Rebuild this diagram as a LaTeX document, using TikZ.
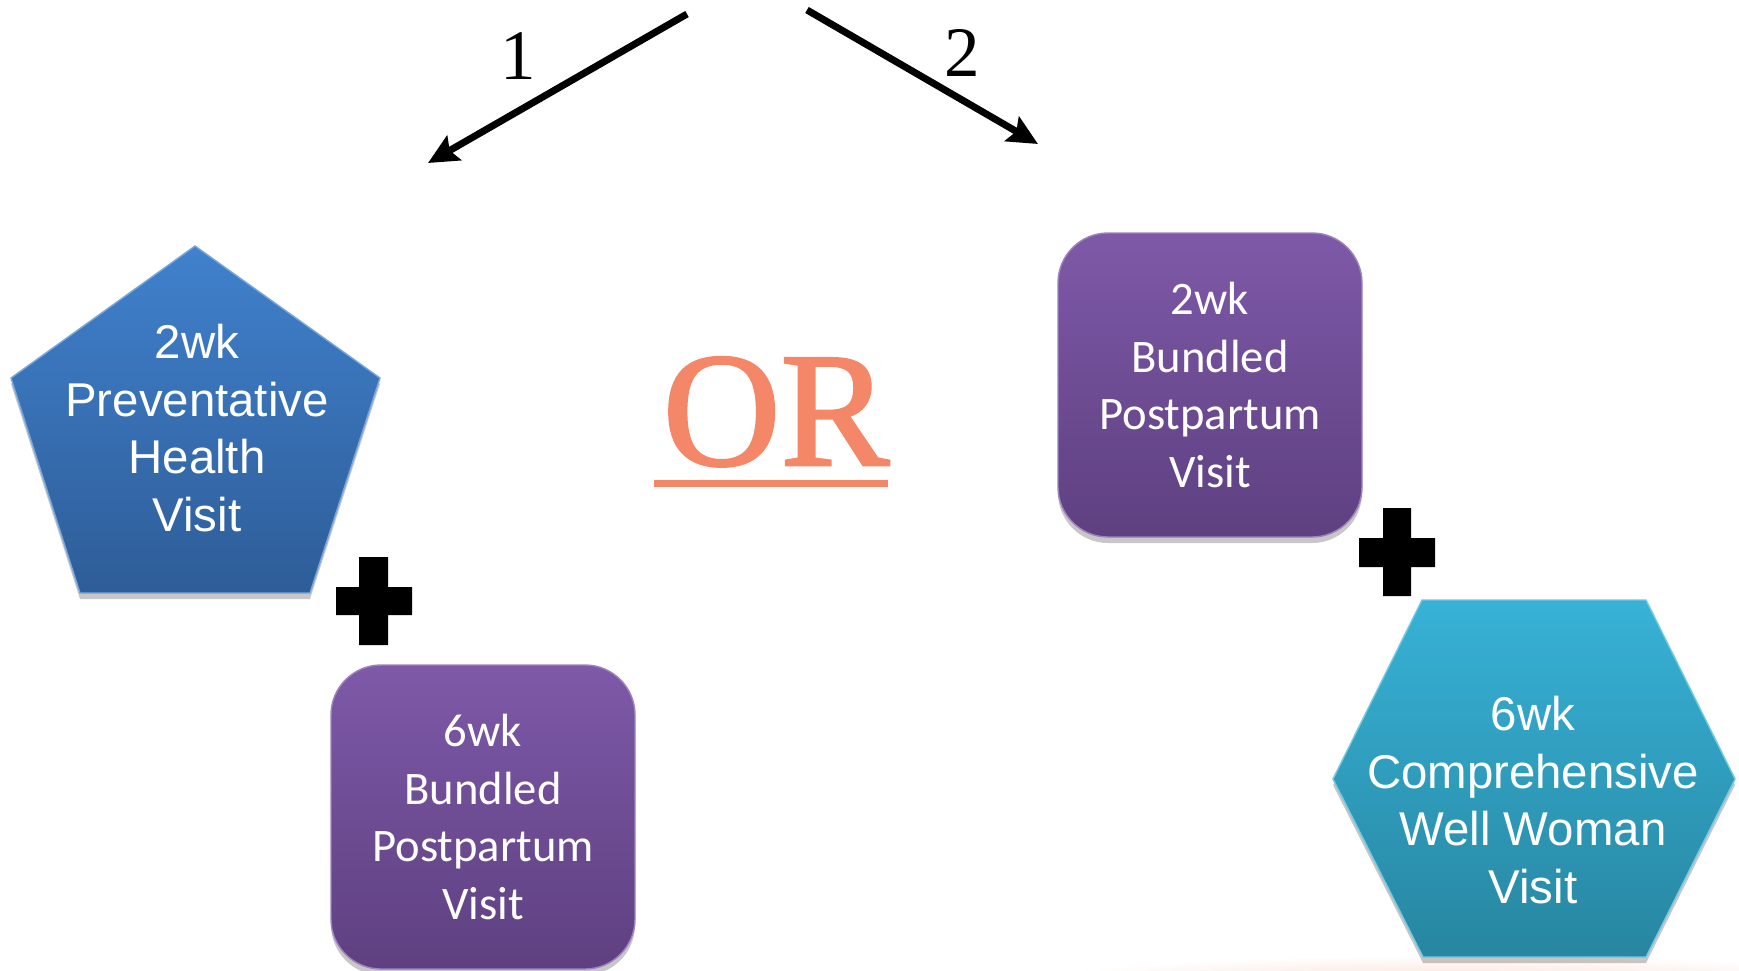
\documentclass[tikz,border=0pt]{standalone}
\usepackage{fontspec}
\setmainfont{Liberation Serif}
\newfontfamily\arialf{Liberation Sans}
\newfontfamily\calibrif{Carlito}
\newfontfamily\orfont[FakeBold=1.6]{Liberation Serif}
\usetikzlibrary{arrows.meta,shadows}
\definecolor{bluetop}{RGB}{64,129,205}
\definecolor{bluebot}{RGB}{46,93,152}
\definecolor{purtop}{RGB}{126,89,168}
\definecolor{purbot}{RGB}{94,64,128}
\definecolor{cyantop}{RGB}{55,178,215}
\definecolor{cyanbot}{RGB}{39,134,160}
\definecolor{salmon}{RGB}{245,135,105}
\definecolor{glow}{RGB}{247,190,168}
\begin{document}
\begin{tikzpicture}[x=0.5pt,y=-0.5pt,
  shapeshadow/.style={drop shadow={shadow xshift=0pt,shadow yshift=-3pt,opacity=0.22,fill=black}},
  pentashape/.style={top color=bluetop,bottom color=bluebot,draw=bluetop!70!white,line width=0.7pt,shapeshadow},
  hexshape/.style={top color=cyantop,bottom color=cyanbot,draw=cyantop!70!white,line width=0.7pt,shapeshadow},
  purplebox/.style={top color=purtop,bottom color=purbot,draw=purtop!75!white,line width=0.7pt,
    rounded corners=25pt,minimum width=152pt,minimum height=152pt,inner sep=0pt,
    text=white,align=center,font=\calibrif\fontsize{23.3}{28.85}\selectfont,shapeshadow},
  whitetext/.style={text=white,align=center,inner sep=0pt,font=\arialf\fontsize{23.7}{28.8}\selectfont},
  numlabel/.style={inner sep=0pt,font=\fontsize{35.5}{40}\selectfont},
  arrowline/.style={line width=3.5pt,-{Stealth[length=15pt,width=14pt,inset=2.5pt]}},
  plussign/.style={fill=black}
]
\useasboundingbox (0,0) rectangle (1739,970);
\fill[white] (0,0) rectangle (1739,970);
% faint background glow at the bottom
\begin{scope}
  \clip (0,0) rectangle (1739,970);
  \shade[inner color=glow,outer color=white] (1460,1010) ellipse (560 and 55);
\end{scope}

% arrows and labels
\coordinate (s1) at (687,14);
\coordinate (e1) at (428,163);
\coordinate (s2) at (807,10);
\coordinate (e2) at (1038,144);
\draw[arrowline] (s1) -- (e1);
\draw[arrowline] (s2) -- (e2);
\node[numlabel] (l1) at (518,56) {1};
\node[numlabel] (l2) at (962,53) {2};

% OR
\node[text=salmon,anchor=base,inner sep=0pt,font=\orfont\fontsize{81.5}{90}\selectfont] (or) at (776,465) {OR};
\draw[salmon,line width=3.5pt] (654,483.5) -- (888,483.5);

% pentagon
\path[pentashape] (195,246) -- (380,378) -- (310,593) -- (80,593) -- (11,378) -- cycle;
\node[whitetext] (pent) at (197,428) {2wk\\Preventative\\Health\\Visit};

% plus 1
\path[plussign] (336,587) rectangle (412,615) (359,557) rectangle (388,645);

% box 1
\node[purplebox] (box1) at (483,817) {6wk\\Bundled\\Postpartum\\Visit};

% box 2
\node[purplebox] (box2) at (1210,385) {2wk\\Bundled\\Postpartum\\Visit};

% plus 2
\path[plussign] (1359,538) rectangle (1435,567) (1383,508) rectangle (1411,596);

% hexagon
\path[hexshape] (1422,600) -- (1646,600) -- (1735,779) -- (1646,957) -- (1423,957) -- (1333,779) -- cycle;
\node[whitetext] (hexa) at (1533,800) {6wk\\Comprehensive\\Well Woman\\Visit};
\end{tikzpicture}
\end{document}
